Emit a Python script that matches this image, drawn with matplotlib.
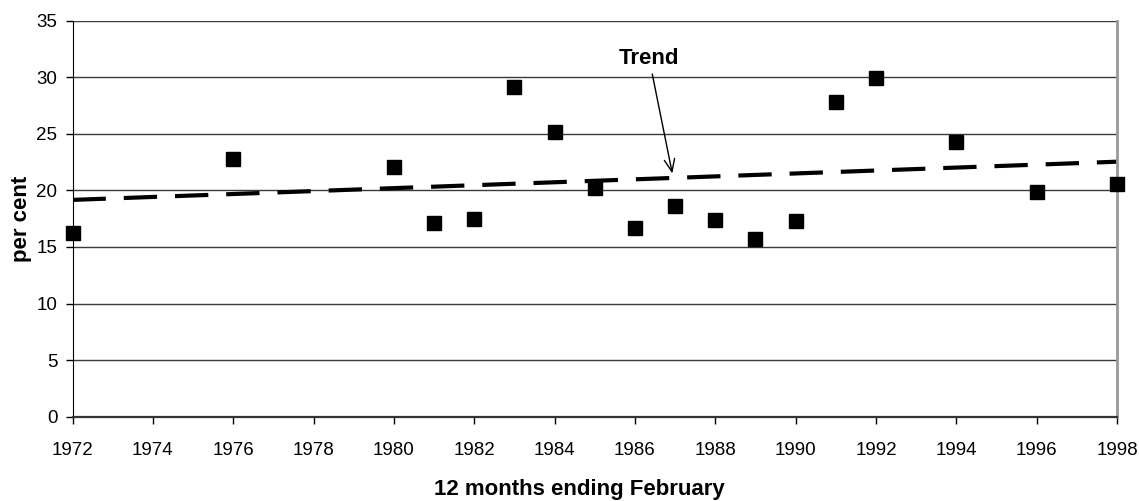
"""
Percentage change over 12 months ending February, 1972-1998,
with a fitted linear trend.
"""

import numpy as np
from matplotlib import pyplot as plt

plt.rcParams['font.family'] = ['Liberation Sans', 'DejaVu Sans']

years = [1972, 1976, 1980, 1981, 1982, 1983, 1984, 1985, 1986,
         1987, 1988, 1989, 1990, 1991, 1992, 1994, 1996, 1998]
per_cent = [16.2, 22.8, 22.1, 17.1, 17.5, 29.1, 25.2, 20.2, 16.7,
            18.6, 17.4, 15.7, 17.3, 27.8, 29.9, 24.3, 19.9, 20.6]
x_ticks = list(range(1972, 1999, 2))
y_ticks = list(range(0, 36, 5))

# least squares trend through the points
slope, intercept = np.polyfit(years, per_cent, 1)
trend_x = np.array([1972, 1998])
trend_y = slope*trend_x + intercept

fig = plt.figure(figsize=(11.39, 5.01), dpi=100)
ax = fig.add_axes([0.0637, 0.1683, 0.9170, 0.7904])

for y in y_ticks[1:]:
    ax.axhline(y, color='#3a3a3a', lw=1.0, zorder=1)

ax.plot(trend_x, trend_y, color='black', lw=3.0, ls=(0, (8, 4.3)),
        dash_capstyle='butt', zorder=2)
ax.plot(years, per_cent, 'ks', ms=10, ls='none', clip_on=False, zorder=3)

ax.annotate("Trend", xy=(1986.93, 21.5), xytext=(1986.35, 31.7),
            ha='center', va='center', fontsize=16, fontweight='bold',
            arrowprops=dict(arrowstyle='->,head_length=0.6,head_width=0.25',
                            color='black', lw=1.0, shrinkA=2, shrinkB=0,
                            mutation_scale=15))

ax.set_xlim(1972, 1998)
ax.set_ylim(0, 35)
ax.set_xticks(x_ticks)
ax.set_yticks(y_ticks)
ax.tick_params(axis='x', direction='out', length=5, width=1, pad=13,
               labelsize=13.5)
ax.tick_params(axis='y', direction='out', length=5, width=1, pad=6,
               labelsize=13.5)

ax.spines['top'].set_visible(False)
ax.spines['left'].set_color('black')
ax.spines['bottom'].set_color('#333333')
ax.spines['bottom'].set_linewidth(1.6)
ax.spines['right'].set_color('#999999')
ax.spines['right'].set_linewidth(2)

ax.set_ylabel("per cent", fontsize=16, fontweight='bold', labelpad=3)
fig.text(579/1139, 1 - 489/501, "12 months ending February",
         ha='center', va='center', fontsize=16, fontweight='bold')

plt.savefig("out.png", dpi=100)
